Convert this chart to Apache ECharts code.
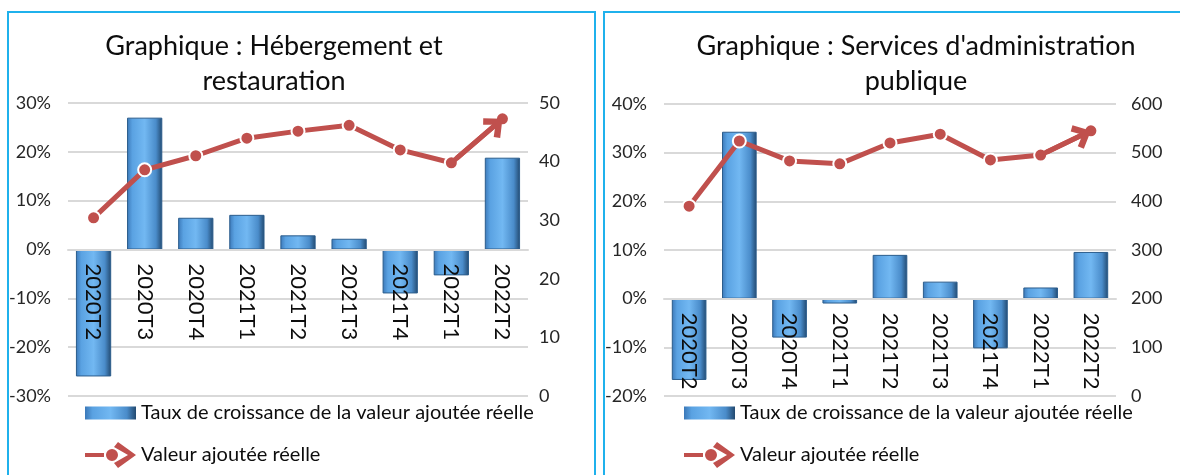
<!DOCTYPE html>
<html>
<head>
<meta charset="utf-8">
<script src="https://cdn.jsdelivr.net/npm/echarts@6/dist/echarts.min.js"></script>
<style>
	html, body { margin: 0; padding: 0; background: #fff; overflow: hidden; }
	body { width: 1180px; height: 475px; position: relative; }
	.chart { position: absolute; top: 0; height: 475px; }
	#left { left: 0; width: 600px; }
	#right { left: 590px; width: 590px; }
	.frame {
		position: absolute;
		box-sizing: border-box;
		border: 2px solid #1fb1ec;
		pointer-events: none;
	}
	#leftFrame { left: 7px; top: 11px; width: 589px; height: 520px; }
	#rightFrame { left: 603px; top: 11px; width: 620px; height: 520px; }
</style>
</head>
<body>
<div id="left" class="chart"></div>
<div id="right" class="chart"></div>
<div id="leftFrame" class="frame"></div>
<div id="rightFrame" class="frame"></div>
<script>
// trimestres
const categories = ['2020T2', '2020T3', '2020T4', '2021T1', '2021T2', '2021T3', '2021T4', '2022T1', '2022T2']

// Hébergement et restauration
const hebergementTaux = [-26, 27, 6.5, 7.1, 2.9, 2.2, -9.0, -5.3, 18.8]
const hebergementValeur = [30.4, 38.6, 41.0, 44.0, 45.2, 46.2, 42.0, 39.8, 47.3]

// Services d'administration publique
const adminTaux = [-16.7, 34.3, -8.0, -1.0, 9.0, 3.5, -10.2, 2.3, 9.6]
const adminValeur = [390, 524, 483, 477, 520, 538, 485, 495, 545]

const tauxName = 'Taux de croissance de la valeur ajoutée réelle'
const valeurName = 'Valeur ajoutée réelle'

const FONT = 'Lato, "Liberation Sans", sans-serif'
const RED = '#c0504d'
const CHART_H = 475

const barColor = {
	type: 'linear', x: 0, y: 0, x2: 1, y2: 0,
	colorStops: [
		{ offset: 0, color: '#3b78b8' },
		{ offset: 0.15, color: '#5aa2e2' },
		{ offset: 0.5, color: '#72b8f2' },
		{ offset: 0.82, color: '#4a8cca' },
		{ offset: 1, color: '#22496f' },
	],
}

// pointe de flèche ouverte en bout de courbe (vers le haut, la pointe au centre)
const chevron = 'path://M12,-17 M12,0 L24,13 L19.5,17 L12,8.5 L4.5,17 L0,13 Z'
const barIcon = 'path://M0,0 M0,6.5 L51,6.5 L51,19.5 L0,19.5 Z M51,26'
const lineIcon = 'path://M0,11 L19,11 L19,15 L0,15 Z M33,13 A6,6 0 1 1 21,13 A6,6 0 1 1 33,13 Z M33,0 L51,13 L33,26 L29,21 L43,13 L29,5 Z'

const makeOption = cfg => {
	// les étiquettes de catégories partent de la ligne 0 %
	const plotH = CHART_H - cfg.grid.top - cfg.grid.bottom
	const zeroFromBottom = plotH * (0 - cfg.pctMin) / (cfg.pctMax - cfg.pctMin)
	return {
		animation: false,
		textStyle: { fontFamily: FONT },
		title: {
			text: cfg.title,
			left: cfg.titleX,
			top: 29,
			padding: 0,
			textAlign: 'center',
			textStyle: { fontFamily: FONT, fontSize: 27, fontWeight: 'normal', color: '#0d0d0d', lineHeight: 35 },
		},
		legend: {
			orient: 'vertical',
			left: cfg.legendX,
			top: 395,
			itemWidth: 51,
			itemHeight: 26,
			itemGap: 16,
			selectedMode: false,
			textStyle: { fontFamily: FONT, fontSize: 20, color: '#0d0d0d', lineHeight: 24 },
			data: [
				{ name: tauxName, icon: barIcon, itemStyle: { borderWidth: 0 } },
				{ name: valeurName, icon: lineIcon, itemStyle: { borderWidth: 0 } },
			],
		},
		grid: cfg.grid,
		xAxis: {
			type: 'category',
			data: categories,
			z: 3,
			axisLine: { lineStyle: { color: '#d9d9d9', width: 2 } },
			axisTick: { show: false },
			axisLabel: {
				rotate: -90,
				margin: 14 - zeroFromBottom,
				fontSize: 22,
				color: '#0d0d0d',
				fontFamily: FONT,
				hideOverlap: false,
			},
		},
		yAxis: [
			{
				type: 'value',
				min: cfg.pctMin,
				max: cfg.pctMax,
				interval: 10,
				axisLine: { show: false },
				axisTick: { show: false },
				axisLabel: { formatter: '{value}%', margin: 17, fontSize: 18, color: '#262626', fontFamily: FONT },
				splitLine: { lineStyle: { color: '#d9d9d9', width: 2 } },
			},
			{
				type: 'value',
				min: 0,
				max: cfg.valMax,
				interval: cfg.valInterval,
				axisLine: { show: false },
				axisTick: { show: false },
				axisLabel: { margin: cfg.rightMargin, fontSize: 18, color: '#262626', fontFamily: FONT },
				splitLine: { show: false },
			},
		],
		series: [
			{
				name: tauxName,
				type: 'bar',
				data: cfg.taux,
				barWidth: '69%',
				itemStyle: { color: barColor, borderColor: '#2c5d8c', borderWidth: 1 },
			},
			{
				name: valeurName,
				type: 'line',
				yAxisIndex: 1,
				data: cfg.valeur,
				z: 4,
				symbol: 'circle',
				symbolSize: 13,
				lineStyle: { color: RED, width: 5 },
				itemStyle: { color: RED, borderColor: '#fff', borderWidth: 2 },
				markLine: {
					silent: true,
					symbol: ['none', chevron],
					symbolSize: [26, 37],
					label: { show: false },
					lineStyle: { color: RED, width: 5, type: 'solid' },
					data: [[
						{ coord: [categories[7], cfg.valeur[7]] },
						{ coord: [categories[8], cfg.valeur[8]] },
					]],
				},
			},
		],
	}
}

const leftChart = echarts.init(document.getElementById('left'))
leftChart.setOption(makeOption({
	title: 'Graphique : Hébergement et\nrestauration',
	titleX: 274,
	legendX: 80,
	grid: { left: 68, right: 72, top: 103, bottom: 79 },
	rightMargin: 11,
	pctMin: -30,
	pctMax: 30,
	valMax: 50,
	valInterval: 10,
	taux: hebergementTaux,
	valeur: hebergementValeur,
}))

const rightChart = echarts.init(document.getElementById('right'))
rightChart.setOption(makeOption({
	title: "Graphique : Services d'administration\npublique",
	titleX: 326,
	legendX: 89,
	grid: { left: 74, right: 64, top: 104, bottom: 79 },
	rightMargin: 15,
	pctMin: -20,
	pctMax: 40,
	valMax: 600,
	valInterval: 100,
	taux: adminTaux,
	valeur: adminValeur,
}))
</script>
</body>
</html>
